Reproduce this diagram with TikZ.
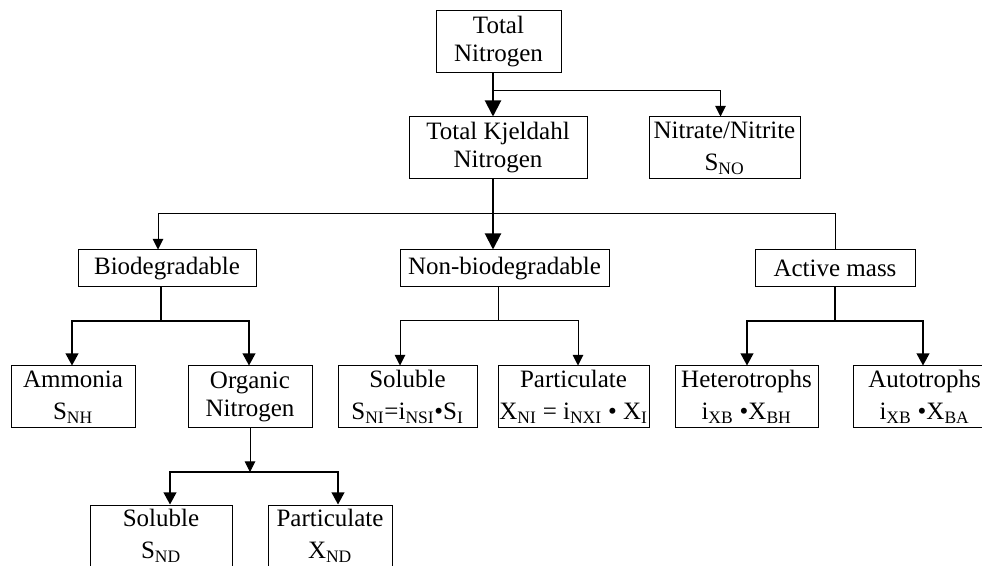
\documentclass[tikz,border=0pt]{standalone}
\usepackage{fontspec}
\setmainfont{Liberation Serif}
\usepackage{tikz}
\usetikzlibrary{arrows.meta, positioning}

\begin{document}
\begin{tikzpicture}[x=0.75pt, y=-0.75pt,
  box/.style={draw, line width=0.75pt, inner sep=0pt, align=center, minimum height=46.5pt,
              font=\fontsize{18.75}{21}\selectfont},
  flatbox/.style={box, minimum height=27.75pt},
  bigarrow/.style={line width=1.5pt, -{Triangle[width=12pt,length=12pt]}},
  medarrow/.style={line width=1.1pt, -{Triangle[width=9.5pt,length=9pt]}},
  thinarrow/.style={line width=0.75pt, -{Triangle[width=8pt,length=8pt]}},
  medline/.style={line width=1.1pt},
  thinline/.style={line width=0.75pt}
]
\useasboundingbox (0,0) rectangle (982,566);

% top levels
\node[box, minimum width=93.75pt] (tn) at (498.5,42) {Total\\Nitrogen};
\node[box, minimum width=133.5pt] (tkn) at (498,148) {Total Kjeldahl\\Nitrogen};
\node[box, minimum width=113.25pt] (nit) at (724.5,148) {Nitrate/Nitrite\\[3pt]S\textsubscript{NO}};

\node[flatbox, minimum width=133.5pt] (bio) at (167,268.5) {Biodegradable};
\node[flatbox, minimum width=156.75pt] (nonbio) at (504.5,268.5) {Non-biodegradable};
\node[flatbox, minimum width=120pt] (active) at (835,268.5) {Active mass};

% third level
\node[box, minimum width=93pt] (amm) at (73,397) {Ammonia\\[3pt]S\textsubscript{NH}};
\node[box, minimum width=93pt] (org) at (250,397) {Organic\\Nitrogen};
\node[box, minimum width=104.25pt] (solni) at (407.5,397) {Soluble\\[3pt]S\textsubscript{NI}=i\textsubscript{NSI}\textbullet S\textsubscript{I}};
\node[box, minimum width=113.25pt] (partni) at (573.5,397) {Particulate\\[3pt]X\textsubscript{NI} = i\textsubscript{NXI} \textbullet{} X\textsubscript{I}};
\node[box, minimum width=107.25pt] (het) at (746.5,397) {Heterotrophs\\[3pt]i\textsubscript{XB} \textbullet X\textsubscript{BH}};
\node[box, minimum width=107.25pt] (aut) at (924.5,397) {Autotrophs\\[3pt]i\textsubscript{XB} \textbullet X\textsubscript{BA}};

% organic nitrogen split
\node[box, minimum width=106.5pt] (solnd) at (161,536) {Soluble\\[3pt]S\textsubscript{ND}};
\node[box, minimum width=93pt] (partnd) at (330,536) {Particulate\\[3pt]X\textsubscript{ND}};

% junctions
\coordinate (j1) at (493,91);
\coordinate (j2) at (493,214);
\coordinate (b1) at (158,214);
\coordinate (bio1) at (72,321);
\coordinate (bio2) at (249,321);
\coordinate (nb0) at (498,321);
\coordinate (nb1) at (400,321);
\coordinate (nb2) at (578,321);
\coordinate (am1) at (747,321);
\coordinate (am2) at (923,321);
\coordinate (org0) at (250,472);
\coordinate (nd1) at (170,472);
\coordinate (nd2) at (338,472);

\draw[bigarrow] (tn.south -| j1) -- (tkn.north -| j1);
\draw[thinarrow] (j1) -| ([xshift=-3pt]nit.north);
\draw[bigarrow] (tkn.south -| j2) -- (nonbio.north -| j2);
\draw[thinarrow] (j2) -- (b1) -- (b1 |- bio.north);
\draw[thinline] (j2) -| (active.north);

\draw[medline] (bio.south -| 161,0) -- (161,321);
\draw[medarrow] (bio2) -- (bio1) -- (bio1 |- amm.north);
\draw[medarrow] (bio1) -- (bio2) -- (bio2 |- org.north);

\draw[thinline] (nonbio.south -| nb0) -- (nb0);
\draw[thinarrow] (nb2) -- (nb1) -- (nb1 |- solni.north);
\draw[thinarrow] (nb1) -- (nb2) -- (nb2 |- partni.north);

\draw[medline] (active.south) -- (active.south |- am1);
\draw[medarrow] (am2) -- (am1) -- (am1 |- het.north);
\draw[medarrow] (am1) -- (am2) -- (am2 |- aut.north);

\draw[thinarrow] (org.south) -- (org0);
\draw[medarrow] (nd2) -- (nd1) -- (nd1 |- solnd.north);
\draw[medarrow] (nd1) -- (nd2) -- (nd2 |- partnd.north);
\end{tikzpicture}
\end{document}
